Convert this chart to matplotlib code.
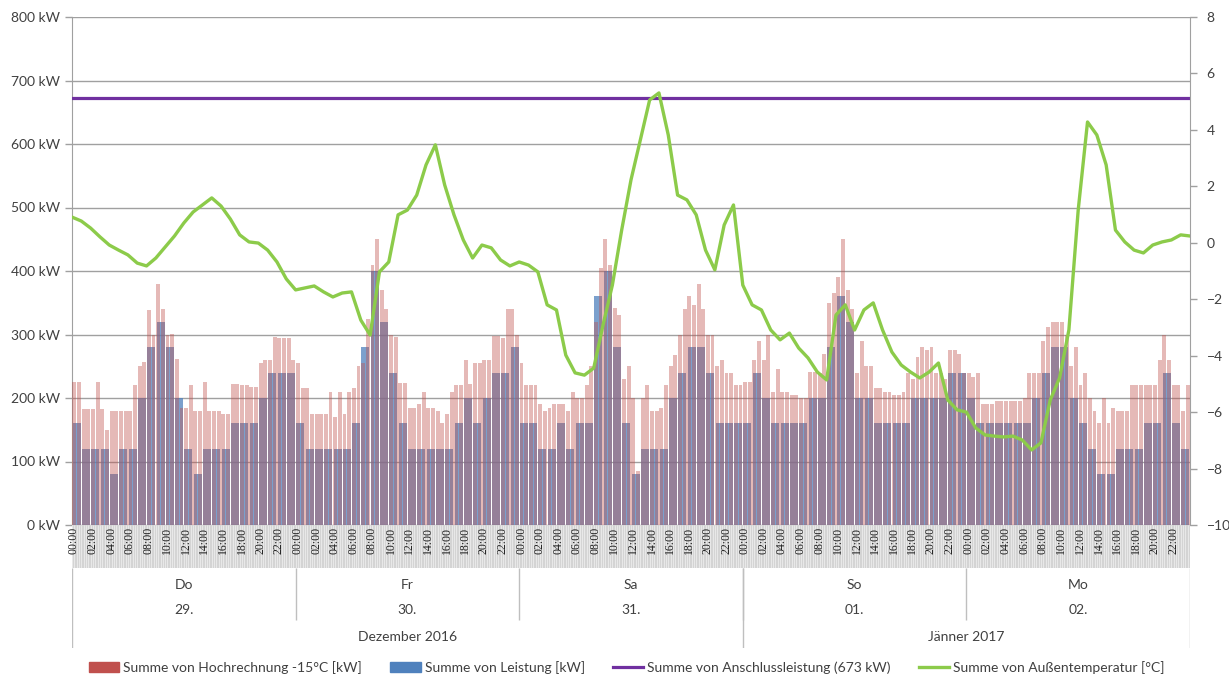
import matplotlib
matplotlib.use("Agg")
import matplotlib.pyplot as plt
import numpy as np
from matplotlib.patches import Patch
from matplotlib.lines import Line2D

plt.rcParams["font.family"] = ["Lato", "DejaVu Sans"]

# Leistung [kW], one value per hour (Do 29.12. 00:00 .. Mo 02.01. 23:00)
leistung_kw = [
    160, 120, 120, 120, 80, 120, 120, 200, 280, 320, 280, 200,
    120, 80, 120, 120, 120, 160, 160, 160, 200, 240, 240, 240,
    160, 120, 120, 120, 120, 120, 160, 280, 400, 320, 240, 160,
    120, 120, 120, 120, 120, 160, 200, 160, 200, 240, 240, 280,
    160, 160, 120, 120, 160, 120, 160, 160, 360, 400, 280, 160,
    80, 120, 120, 120, 200, 240, 280, 280, 240, 160, 160, 160,
    160, 240, 200, 160, 160, 160, 160, 200, 200, 280, 360, 320,
    200, 200, 160, 160, 160, 160, 200, 200, 200, 200, 240, 240,
    200, 160, 160, 160, 160, 160, 160, 200, 240, 280, 280, 200,
    160, 120, 80, 80, 120, 120, 120, 160, 160, 240, 160, 120,
]

# Hochrechnung -15°C [kW], one value per half hour
hochrechnung_kw = [
    # Do 29.
    225, 225, 182, 182, 182, 225, 182, 150, 180, 180, 180, 180,
    180, 220, 250, 257, 338, 300, 380, 340, 300, 301, 262, 185,
    185, 220, 180, 180, 225, 180, 180, 180, 175, 175, 222, 222,
    220, 220, 218, 218, 255, 260, 260, 296, 295, 295, 295, 260,
    # Fr 30.
    255, 215, 215, 175, 175, 175, 175, 210, 170, 210, 175, 210,
    215, 250, 255, 325, 410, 450, 370, 340, 300, 296, 224, 224,
    185, 185, 190, 210, 185, 185, 180, 160, 175, 210, 220, 220,
    260, 222, 255, 255, 260, 260, 298, 298, 295, 340, 340, 300,
    # Sa 31.
    255, 220, 220, 220, 190, 180, 185, 190, 190, 190, 180, 210,
    200, 200, 220, 250, 320, 405, 451, 410, 341, 330, 230, 250,
    200, 85, 200, 220, 180, 180, 185, 220, 250, 268, 300, 340,
    360, 347, 380, 340, 300, 300, 250, 260, 240, 240, 220, 220,
    # So 01.
    225, 225, 260, 289, 260, 300, 210, 245, 210, 210, 205, 205,
    200, 200, 241, 241, 240, 270, 350, 365, 390, 450, 370, 340,
    240, 290, 250, 250, 215, 215, 210, 210, 205, 205, 210, 240,
    230, 265, 281, 275, 280, 240, 240, 230, 275, 275, 270, 240,
    # Mo 02.
    240, 233, 240, 190, 191, 191, 195, 195, 195, 195, 195, 195,
    200, 240, 240, 240, 290, 312, 320, 320, 320, 300, 250, 280,
    220, 240, 200, 180, 160, 200, 160, 185, 180, 180, 180, 220,
    220, 220, 220, 220, 220, 260, 300, 260, 220, 220, 180, 220,
]

# Außentemperatur [°C], hourly, last value = end of Mo 02.
temperatur_c = [
    0.91, 0.77, 0.52, 0.21, -0.08, -0.26, -0.43, -0.72, -0.82, -0.54, -0.15, 0.24,
    0.70, 1.09, 1.34, 1.59, 1.30, 0.84, 0.28, 0.03, -0.01, -0.26, -0.68, -1.28,
    -1.67, -1.60, -1.53, -1.74, -1.92, -1.78, -1.74, -2.74, -3.27, -1.03, -0.68, 0.99,
    1.16, 1.69, 2.76, 3.47, 2.05, 0.99, 0.10, -0.54, -0.08, -0.18, -0.61, -0.82,
    -0.68, -0.79, -1.03, -2.20, -2.38, -3.98, -4.61, -4.69, -4.44, -2.91, -1.50, 0.45,
    2.23, 3.64, 5.06, 5.31, 3.82, 1.69, 1.52, 0.99, -0.26, -0.96, 0.63, 1.34,
    -1.50, -2.20, -2.38, -3.09, -3.44, -3.20, -3.73, -4.08, -4.58, -4.86, -2.56, -2.20,
    -3.09, -2.38, -2.13, -3.09, -3.87, -4.33, -4.58, -4.79, -4.58, -4.26, -5.57, -5.92,
    -6.00, -6.56, -6.81, -6.85, -6.88, -6.85, -6.99, -7.34, -7.09, -5.57, -4.79, -3.09,
    1.16, 4.28, 3.82, 2.76, 0.45, 0.03, -0.26, -0.36, -0.08, 0.03, 0.10, 0.28,
    0.24,
]

anschlussleistung_kw = 673

hour_labels = ["00:00", "02:00", "04:00", "06:00", "08:00", "10:00",
               "12:00", "14:00", "16:00", "18:00", "20:00", "22:00"]
day_names = ["Do", "Fr", "Sa", "So", "Mo"]
day_numbers = ["29.", "30.", "31.", "01.", "02."]
months = ["Dezember 2016", "Jänner 2017"]
month_days = [3, 2]

kw_ticks = [0, 100, 200, 300, 400, 500, 600, 700, 800]
temp_ticks = [-10, -8, -6, -4, -2, 0, 2, 4, 6, 8]

legend_labels = [
    "Summe von Hochrechnung -15°C [kW]",
    "Summe von Leistung [kW]",
    "Summe von Anschlussleistung (673 kW)",
    "Summe von Außentemperatur [°C]",
]

RED = "#C0504D"
BLUE = "#4F81BD"
PURPLE = "#7030A0"
GREEN = "#8CCB4A"
TXT = "#404040"
GRID = "#A0A0A0"

n_hours = len(leistung_kw)
hours = np.arange(n_hours)
half_hours = np.arange(len(hochrechnung_kw)) / 2
temp_x = np.arange(len(temperatur_c))

fig = plt.figure(figsize=(12.29, 6.79), dpi=100)
L, W = 72 / 1229, 1118 / 1229

ax = fig.add_axes([L, 154 / 679, W, 508 / 679])
ax.bar(hours + 0.5, leistung_kw, width=0.86, color=BLUE, alpha=0.75, zorder=2)
ax.bar(half_hours + 0.25, hochrechnung_kw, width=0.42, color=RED, alpha=0.4, zorder=3)
ax.axhline(anschlussleistung_kw, color=PURPLE, lw=2.3, zorder=4)

ax.set_xlim(0, n_hours)
ax.set_ylim(0, 800)
ax.set_yticks(kw_ticks)
ax.set_yticklabels([f"{v} kW" for v in kw_ticks])
ax.set_xticks([])
ax.grid(axis="y", color=GRID, lw=1, zorder=0)
ax.set_axisbelow(True)
for side in ["top", "right", "bottom"]:
    ax.spines[side].set_visible(False)
ax.spines["left"].set_color(GRID)
ax.tick_params(axis="y", colors=GRID, labelcolor=TXT, labelsize=10, length=5, width=1)

ax2 = ax.twinx()
ax2.plot(temp_x, temperatur_c, color=GREEN, lw=2.4, zorder=5)
ax2.set_xlim(0, n_hours)
ax2.set_ylim(-10, 8)
ax2.set_yticks(temp_ticks)
for side in ["top", "left", "bottom"]:
    ax2.spines[side].set_visible(False)
ax2.spines["right"].set_color(GRID)
ax2.tick_params(axis="y", colors=GRID, labelcolor=TXT, labelsize=10, length=5, width=1, pad=7)

# grey category band with hour labels
bax = fig.add_axes([L, 111 / 679, W, 43 / 679])
bax.set_xlim(0, n_hours)
bax.set_ylim(0, 1)
bax.axis("off")
bax.axvspan(0, n_hours, color="#D4D4D4", lw=0)
bax.vlines(np.arange(0, n_hours, 0.25), 0, 1, color="#EDEDED", lw=0.6)
for d in range(len(day_names)):
    for i, lab in enumerate(hour_labels):
        bax.text(d * 24 + i * 2 + 0.2, 0.96, lab, rotation=90, ha="center", va="top",
                 fontsize=8.5, color="#202020", family=["Liberation Serif", "DejaVu Serif"])

# day and month labels
lax = fig.add_axes([L, 31 / 679, W, 80 / 679])
lax.set_xlim(0, n_hours)
lax.set_ylim(0, 1)
lax.axis("off")
for d, (name, num) in enumerate(zip(day_names, day_numbers)):
    lax.text(d * 24 + 12, 0.79, name, ha="center", va="center", fontsize=10, color=TXT)
    lax.text(d * 24 + 12, 0.47, num, ha="center", va="center", fontsize=10, color=TXT)
for d in range(1, len(day_names)):
    lax.vlines(d * 24, 0.35, 1, color="#BFBFBF", lw=1)
start = 0
lax.vlines(0, 0, 1, color="#BFBFBF", lw=1)
for m, nd in zip(months, month_days):
    end = start + nd * 24
    lax.text((start + end) / 2, 0.14, m, ha="center", va="center", fontsize=10, color=TXT)
    lax.vlines(end, 0, 1, color="#BFBFBF", lw=1)
    start = end

handles = [
    Patch(color=RED),
    Patch(color=BLUE),
    Line2D([], [], color=PURPLE, lw=2.3),
    Line2D([], [], color=GREEN, lw=2.4),
]
fig.legend(handles, legend_labels, loc="center", bbox_to_anchor=(0.51, 0.017), ncol=4,
           frameon=False, fontsize=10, handlelength=2.2, columnspacing=2.0,
           handletextpad=0.3, labelcolor=TXT)

fig.savefig("out.png", dpi=100)
